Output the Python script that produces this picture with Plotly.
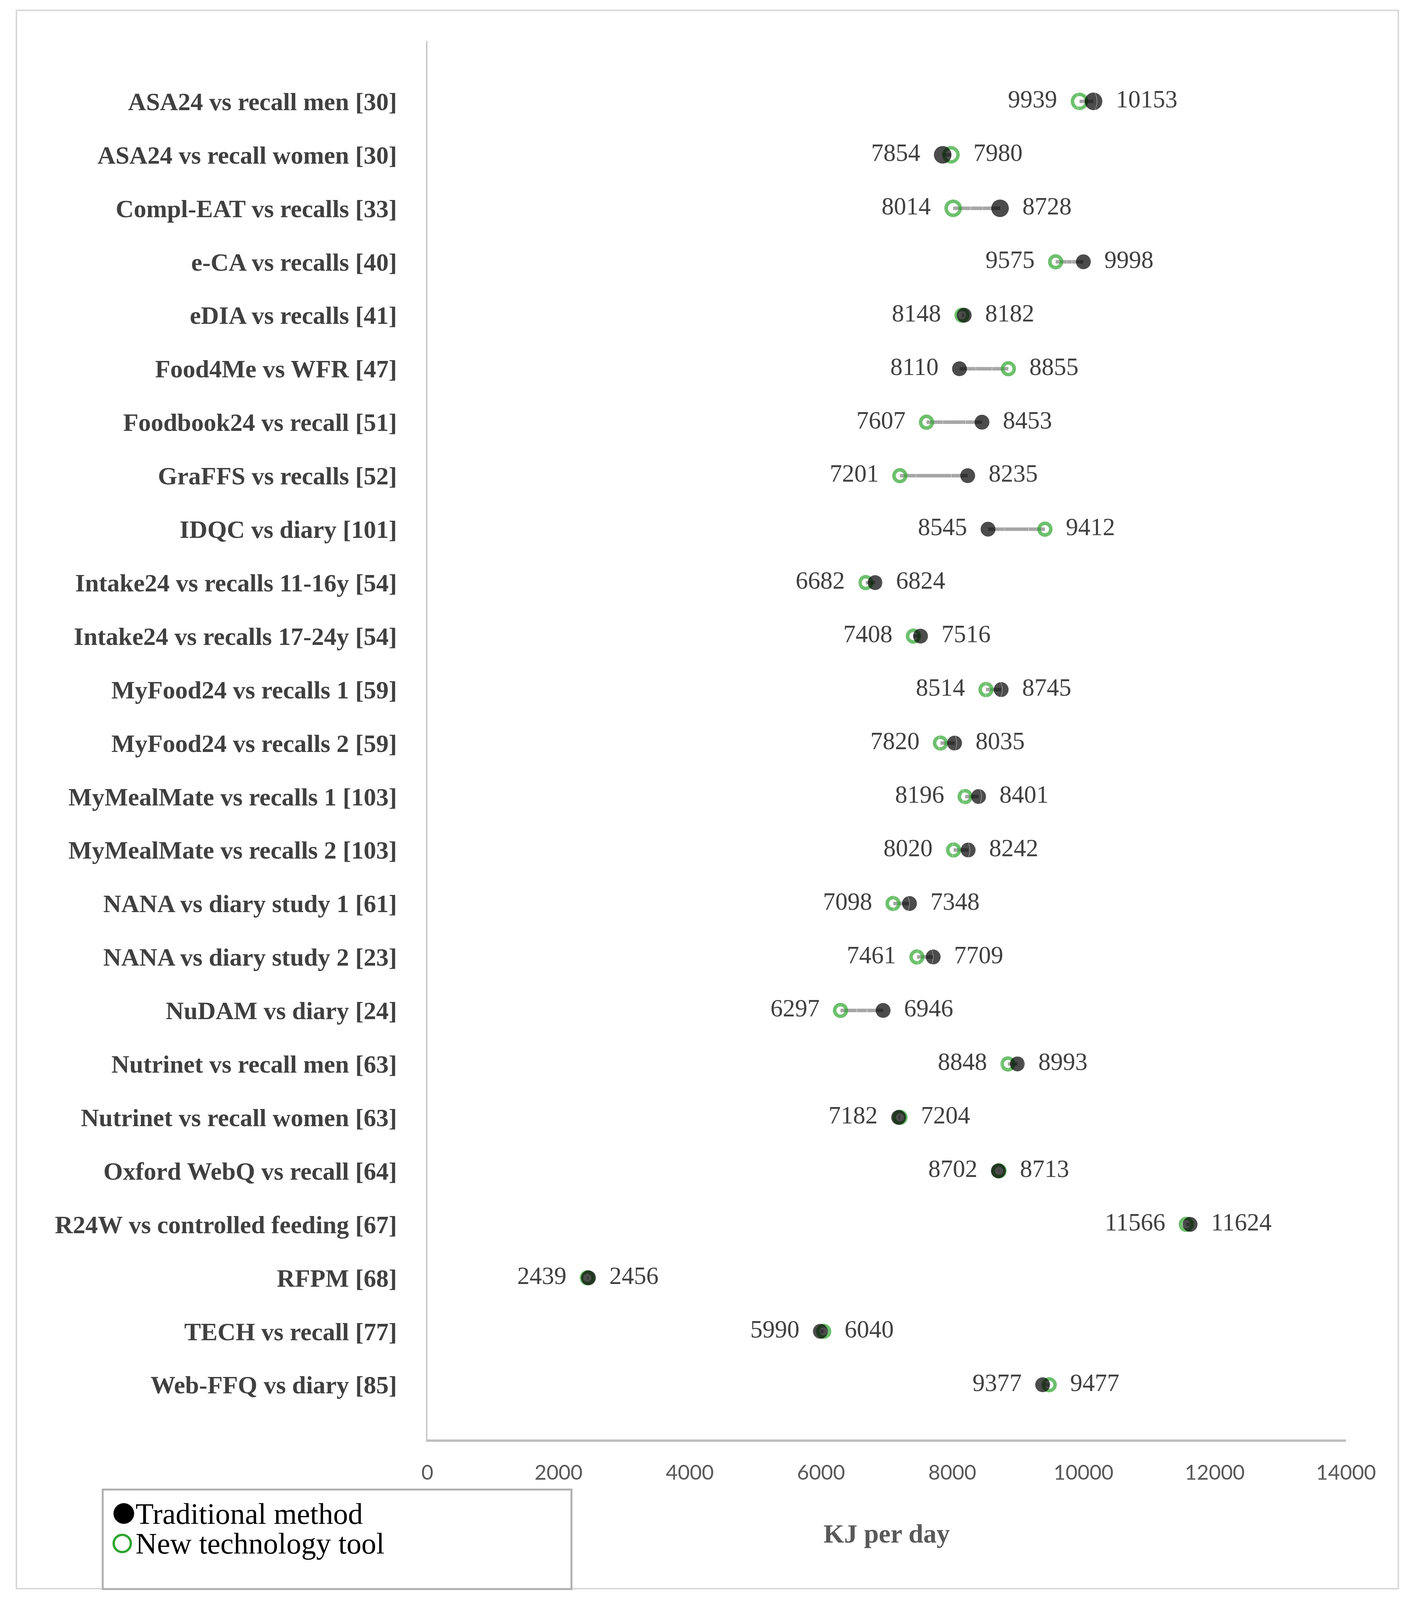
import plotly.graph_objects as go

categories = [
    "ASA24 vs recall men [30]",
    "ASA24 vs recall women [30]",
    "Compl-EAT vs recalls [33]",
    "e-CA vs recalls [40]",
    "eDIA vs recalls [41]",
    "Food4Me vs WFR [47]",
    "Foodbook24 vs recall [51]",
    "GraFFS vs recalls [52]",
    "IDQC vs diary [101]",
    "Intake24 vs recalls 11-16y [54]",
    "Intake24 vs recalls 17-24y [54]",
    "MyFood24 vs recalls 1 [59]",
    "MyFood24 vs recalls 2 [59]",
    "MyMealMate vs recalls 1 [103]",
    "MyMealMate vs recalls 2 [103]",
    "NANA vs diary study 1 [61]",
    "NANA vs diary study 2 [23]",
    "NuDAM vs diary [24]",
    "Nutrinet vs recall men [63]",
    "Nutrinet vs recall women [63]",
    "Oxford WebQ vs recall [64]",
    "R24W vs controlled feeding [67]",
    "RFPM [68]",
    "TECH vs recall [77]",
    "Web-FFQ vs diary [85]",
]

traditional = [10153, 7854, 8728, 9998, 8182, 8110, 8453, 8235, 8545, 6824,
               7516, 8745, 8035, 8401, 8242, 7348, 7709, 6946, 8993, 7182,
               8702, 11624, 2456, 5990, 9377]

new_tool = [9939, 7980, 8014, 9575, 8148, 8855, 7607, 7201, 9412, 6682,
            7408, 8514, 7820, 8196, 8020, 7098, 7461, 6297, 8848, 7204,
            8713, 11566, 2439, 6040, 9477]

x_ticks = [0, 2000, 4000, 6000, 8000, 10000, 12000, 14000]

# ---------------- layout geometry (reference pixels -> page fractions) ----------------
W, H = 3615, 4810


def fx(px):
    return px / W


def fy(py):
    return 1 - py / H


GREEN = "#2FA52F"
GRAY_LINE = "#A6A6A6"
TXT = "#404040"

n = len(categories)
big = [i < 3 for i in range(n)]
black_size = [45 if b else 38 for b in big]
green_size = [36 if b else 30 for b in big]
lab_size = [90 if b else 84 for b in big]

# connector line segments
cx, cy = [], []
for c, a, b in zip(categories, traditional, new_tool):
    cx += [a, b, None]
    cy += [c, c, None]

lo = [min(a, b) for a, b in zip(traditional, new_tool)]
hi = [max(a, b) for a, b in zip(traditional, new_tool)]

fig = go.Figure()
fig.add_trace(go.Scatter(x=cx, y=cy, mode="lines",
                         line=dict(color=GRAY_LINE, width=9),
                         showlegend=False, hoverinfo="skip"))
fig.add_trace(go.Scatter(x=new_tool, y=categories, mode="markers",
                         name="New technology tool",
                         marker=dict(symbol="circle-open", size=green_size,
                                     color=GREEN, line=dict(color=GREEN, width=9)),
                         showlegend=False))
fig.add_trace(go.Scatter(x=traditional, y=categories, mode="markers",
                         name="Traditional method",
                         marker=dict(symbol="circle", size=black_size,
                                     color="#000000", line=dict(width=0)),
                         showlegend=False))
# value labels
fig.add_trace(go.Scatter(x=lo, y=categories, mode="markers+text",
                         text=[str(v) for v in lo], textposition="middle left",
                         textfont=dict(family="Liberation Serif", size=63, color=TXT),
                         marker=dict(size=lab_size, color="rgba(0,0,0,0)"),
                         showlegend=False, hoverinfo="skip"))
fig.add_trace(go.Scatter(x=hi, y=categories, mode="markers+text",
                         text=[str(v) for v in hi], textposition="middle right",
                         textfont=dict(family="Liberation Serif", size=63, color=TXT),
                         marker=dict(size=lab_size, color="rgba(0,0,0,0)"),
                         showlegend=False, hoverinfo="skip"))

shapes = [
    # outer border
    dict(type="rect", xref="paper", yref="paper",
         x0=fx(42), x1=fx(3580), y0=fy(4776), y1=fy(31),
         line=dict(color="#D9D9D9", width=4), layer="below"),
    # legend box
    dict(type="rect", xref="paper", yref="paper",
         x0=fx(263), x1=fx(1463), y0=fy(4777), y1=fy(4478),
         line=dict(color="#B0B0B0", width=5), fillcolor="white"),
    # legend markers
    dict(type="circle", xref="paper", yref="paper",
         xsizemode="pixel", ysizemode="pixel",
         xanchor=fx(317), yanchor=fy(4550),
         x0=-26, x1=26, y0=-26, y1=26,
         fillcolor="black", line=dict(color="black", width=1)),
    dict(type="circle", xref="paper", yref="paper",
         xsizemode="pixel", ysizemode="pixel",
         xanchor=fx(313), yanchor=fy(4640),
         x0=-22, x1=22, y0=-22, y1=22,
         fillcolor="rgba(0,0,0,0)", line=dict(color=GREEN, width=6)),
]

annotations = [
    dict(text="Traditional method", xref="paper", yref="paper",
         x=fx(345), y=fy(4550), xanchor="left", yanchor="middle",
         showarrow=False, font=dict(family="Liberation Serif", size=76, color="black")),
    dict(text="New technology tool", xref="paper", yref="paper",
         x=fx(345), y=fy(4640), xanchor="left", yanchor="middle",
         showarrow=False, font=dict(family="Liberation Serif", size=76, color="black")),
]

fig.update_layout(
    autosize=True,
    margin=dict(l=0, r=0, t=0, b=0, pad=0, autoexpand=False),
    paper_bgcolor="white", plot_bgcolor="white",
    shapes=shapes, annotations=annotations,
    showlegend=False,
)
fig.update_xaxes(domain=[fx(1094), fx(3446)],
                 range=[0, 14000], tickvals=x_ticks, ticktext=[str(v) for v in x_ticks],
                 showgrid=False, zeroline=False,
                 showline=True, linecolor="#BFBFBF", linewidth=6,
                 ticks="outside", ticklen=34, tickcolor="rgba(0,0,0,0)",
                 tickfont=dict(family="Lato", size=53, color="#595959"),
                 title=dict(text="KJ per day", standoff=105,
                            font=dict(family="Liberation Serif", size=68,
                                      color="#595959", weight="bold")),
                 automargin=False)
fig.update_yaxes(domain=[fy(4327), fy(123)],
                 type="category", categoryorder="array", categoryarray=categories,
                 range=[n + 0.02, -1.13],
                 showgrid=False, zeroline=False,
                 showline=True, linecolor="#BFBFBF", linewidth=3,
                 ticks="outside", ticklen=62, tickcolor="rgba(0,0,0,0)",
                 tickfont=dict(family="Liberation Serif", size=64, color=TXT, weight="bold"),
                 automargin=False)

fig.write_html(
    "out.html",
    default_width="100vw",
    default_height="100vh",
    config={"responsive": True, "displayModeBar": False},
    post_script=(
        "document.documentElement.style.margin='0px';"
        "document.body.style.margin='0px';"
        "document.body.style.overflow='hidden';"
        "Plotly.Plots.resize(document.getElementById('{plot_id}'));"
    ),
)
